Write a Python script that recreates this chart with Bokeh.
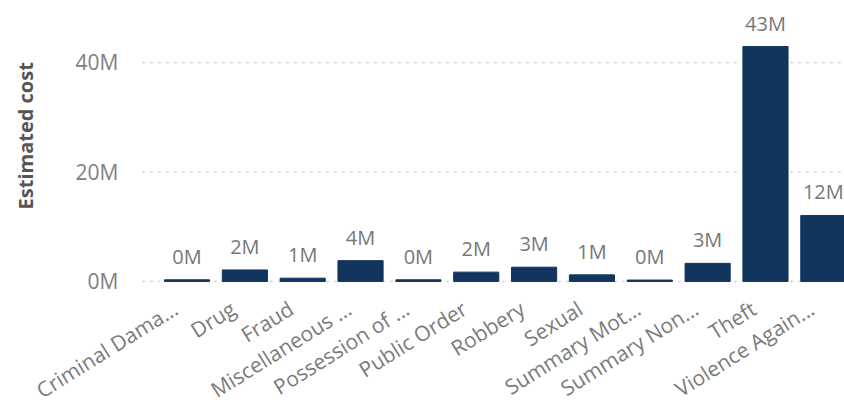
from bokeh.plotting import figure
from bokeh.models import ColumnDataSource, LabelSet, Label, Range1d
from bokeh.core.properties import value
from bokeh.embed import file_html
from bokeh.resources import INLINE
import math

categories = ["Criminal Dama...", "Drug", "Fraud", "Miscellaneous ...", "Possession of ...",
              "Public Order", "Robbery", "Sexual", "Summary Mot...", "Summary Non...",
              "Theft", "Violence Again..."]
cost_millions = [0.3, 2.1, 0.6, 3.8, 0.3, 1.7, 2.6, 1.2, 0.25, 3.3, 42.9, 12.05]
y_ticks = [0, 20, 40]
y_tick_labels = ["0M", "20M", "40M"]
y_axis_title = "Estimated cost"

BAR_COLOR = "#12355E"
FONT = "Open Sans"
LABEL_SHIFT = 0.2          # category label anchor offset (in category units)
GRID_START = -0.769        # left edge of the plotting area (category units)
X_END = 11.366

n = len(categories)
src = ColumnDataSource(dict(
    x=list(range(n)),
    lx=[i - LABEL_SHIFT for i in range(n)],
    zero=[0] * n,
    cat=categories,
    top=cost_millions,
    lbl=[f"{int(v + 0.5)}M" for v in cost_millions],
))
tick_src = ColumnDataSource(dict(
    y=y_ticks,
    txt=y_tick_labels,
    sx=[118] * len(y_ticks),
    x0=[GRID_START] * len(y_ticks),
    x1=[X_END] * len(y_ticks),
))

p = figure(width=844, height=408, output_backend="svg", toolbar_location=None,
           x_range=Range1d(-3.224, X_END), y_range=Range1d(-23.2, 51.3),
           min_border_left=0, min_border_right=0, min_border_top=0, min_border_bottom=0)
p.outline_line_color = None
p.background_fill_color = "white"
p.xaxis.visible = False
p.yaxis.visible = False
p.xgrid.grid_line_color = None
p.ygrid.grid_line_color = None

# dotted gridlines at the y ticks
p.segment(x0="x0", x1="x1", y0="y", y1="y", source=tick_src,
          line_color="#c8c8c8", line_dash="2 6", line_width=1.5)

p.vbar(x="x", top="top", width=0.78, bottom=0, source=src, color=BAR_COLOR)

labels = LabelSet(x="x", y="top", text="lbl", source=src, text_align="center",
                  text_baseline="alphabetic", y_offset=16, text_font=value(FONT),
                  text_font_size="20px", text_color="#777777")
p.add_layout(labels)

cat_labels = LabelSet(x="lx", y="zero", text="cat", source=src, text_align="right",
                      text_baseline="middle", y_offset=-25, angle=math.radians(32),
                      text_font=value(FONT), text_font_size="21px", text_color="#7a7a7a")
p.add_layout(cat_labels)

tick_labels = LabelSet(x="sx", y="y", x_units="screen", text="txt", source=tick_src,
                       text_align="right", text_baseline="middle", text_font=value(FONT),
                       text_font_size="21px", text_color="#808080")
p.add_layout(tick_labels)

axis_title = Label(x=25, x_units="screen", y=26.6, text=y_axis_title, angle=math.pi / 2,
                   text_align="center", text_baseline="middle", text_font=FONT,
                   text_font_size="20px", text_font_style="bold", text_color="#555555")
p.add_layout(axis_title)

open("out.html", "w").write(file_html(p, INLINE))
